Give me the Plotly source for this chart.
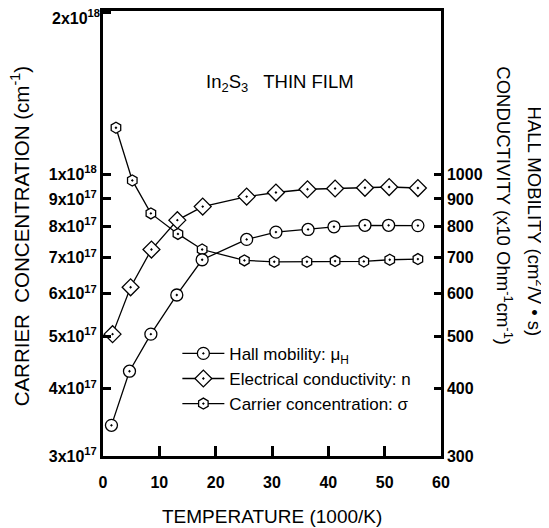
import numpy as np
import plotly.graph_objects as go

# ---- data ----
temp_x = [2.3, 5.2, 8.5, 13.3, 17.6, 25.1, 30.4, 36.2, 41.2, 46.3, 50.9, 55.9]
carrier_conc = [1.22e18, 9.74e17, 8.46e17, 7.75e17, 7.25e17, 6.92e17, 6.88e17,
                6.88e17, 6.90e17, 6.89e17, 6.94e17, 6.96e17]

cond_x = [1.7, 4.9, 8.6, 13.2, 17.7, 25.5, 30.7, 36.3, 41.2, 46.5, 50.8, 55.9]
conductivity = [505, 617, 725, 822, 871, 909, 925, 938, 941, 944, 947, 943]

hall_x = [1.5, 4.7, 8.5, 13.1, 17.6, 25.5, 30.7, 36.4, 41.0, 46.5, 50.7, 55.9]
hall_mobility = [342, 431, 505, 597, 694, 757, 781, 790, 799, 804, 804, 803]

x_ticks = [0, 10, 20, 30, 40, 50, 60]
left_tickvals = [3e17, 4e17, 5e17, 6e17, 7e17, 8e17, 9e17, 1e18, 2e18]
left_ticktext = ["3x10<sup>17</sup>", "4x10<sup>17</sup>", "5x10<sup>17</sup>",
                 "6x10<sup>17</sup>", "7x10<sup>17</sup>", "8x10<sup>17</sup>",
                 "9x10<sup>17</sup>", "1x10<sup>18</sup>", "2x10<sup>18</sup>"]
right_tickvals = [300, 400, 500, 600, 700, 800, 900, 1000]

FONT = "Liberation Sans, Arial, sans-serif"

fig = go.Figure()

line_style = dict(color="black", width=1.3)

fig.add_trace(go.Scatter(
    x=hall_x, y=hall_mobility, yaxis="y2", mode="lines+markers",
    name="Hall mobility: \u03bc<sub>H</sub>",
    line=line_style,
    marker=dict(symbol="circle-dot", size=12, color="white",
                line=dict(color="black", width=1.3)),
))
fig.add_trace(go.Scatter(
    x=cond_x, y=conductivity, yaxis="y2", mode="lines+markers",
    name="Electrical conductivity: n",
    line=line_style,
    marker=dict(symbol="diamond-dot", size=13, color="white",
                line=dict(color="black", width=1.3)),
))
fig.add_trace(go.Scatter(
    x=temp_x, y=carrier_conc, yaxis="y", mode="lines+markers",
    name="Carrier concentration: \u03c3",
    line=line_style,
    marker=dict(symbol="hexagon-dot", size=11, color="white",
                line=dict(color="black", width=1.3)),
))

tickfont = dict(family=FONT, size=16, color="black", weight="bold")

ytop = np.log10(2e18) + 0.002

# the top tick label sits at the frame edge: draw it as a text note beside the axis
left_axis_text = list(left_ticktext)
top_label = left_axis_text[-1]
left_axis_text[-1] = ""

fig.update_layout(
    width=541, height=520,
    margin=dict(l=94.5, r=107.5, t=3, b=72, autoexpand=False),
    paper_bgcolor="white", plot_bgcolor="white",
    font=dict(family=FONT, color="black"),
    showlegend=True,
    legend=dict(x=0.22, y=0.27, xanchor="left", yanchor="top",
                bgcolor="rgba(0,0,0,0)", borderwidth=0,
                font=dict(family=FONT, size=17, color="black"),
                tracegroupgap=0, itemwidth=42),
    xaxis=dict(range=[0, 60], tickvals=x_ticks, ticks="inside", ticklen=10,
               tickwidth=2.5, tickcolor="black", showline=True, linewidth=3,
               linecolor="black", mirror=True, showgrid=False, zeroline=False,
               tickfont=tickfont, automargin=False, ticklabelstandoff=10),
    yaxis=dict(type="log", range=[np.log10(3e17), ytop],
               tickvals=left_tickvals, ticktext=left_axis_text,
               ticks="inside", ticklen=8, tickwidth=2.5, tickcolor="black",
               showline=True, linewidth=3, linecolor="black",
               showgrid=False, zeroline=False, tickfont=tickfont, automargin=False),
    yaxis2=dict(type="log", range=[np.log10(300), ytop - 15],
                overlaying="y", side="right",
                tickvals=right_tickvals, ticktext=[str(v) for v in right_tickvals],
                ticks="inside", ticklen=7, tickwidth=2.5, tickcolor="black",
                showline=True, linewidth=2.5, linecolor="black",
                showgrid=False, zeroline=False, tickfont=tickfont, automargin=False),
    annotations=[
        dict(text=top_label, xref="paper", yref="paper",
             x=0, y=1, xanchor="right", yanchor="middle", xshift=-1, yshift=-6,
             showarrow=False, font=tickfont),
        dict(text="In<sub>2</sub>S<sub>3</sub>   THIN FILM", xref="paper", yref="paper",
             x=0.523, y=0.838, xanchor="center", yanchor="middle", showarrow=False,
             font=dict(family=FONT, size=18.5, color="black")),
        dict(text="CARRIER  CONCENTRATION (cm<sup>-1</sup>)", xref="paper", yref="paper",
             x=-0.245, y=0.494, xanchor="center", yanchor="middle",
             textangle=-90, showarrow=False,
             font=dict(family=FONT, size=20.5, color="black")),
        dict(text="HALL MOBILITY (cm<sup>2</sup>/V \u2022 s)", xref="paper", yref="paper",
             x=1.282, y=0.526, xanchor="center", yanchor="middle",
             textangle=90, showarrow=False,
             font=dict(family=FONT, size=18.5, color="black")),
        dict(text="CONDUCTIVITY (x10 Ohm<sup>-1</sup>cm<sup>-1</sup>)", xref="paper", yref="paper",
             x=1.188, y=0.562, xanchor="center", yanchor="middle",
             textangle=90, showarrow=False,
             font=dict(family=FONT, size=18.5, color="black")),
        dict(text="TEMPERATURE (1000/K)", xref="paper", yref="paper",
             x=0.499, y=-0.137, xanchor="center", yanchor="middle", showarrow=False,
             font=dict(family=FONT, size=19, color="black")),
    ],
)

fig.write_html("out.html")
